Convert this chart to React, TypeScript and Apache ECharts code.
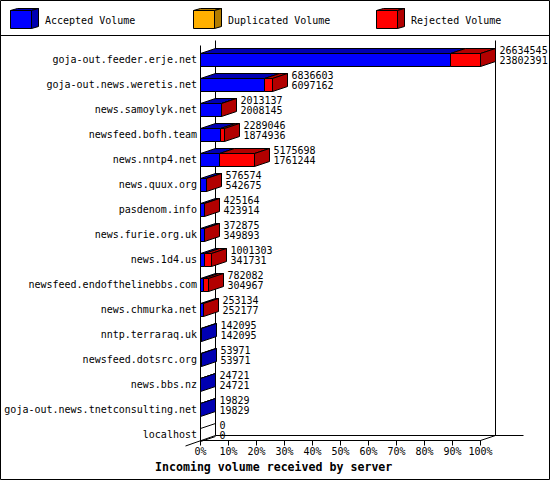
import React, { useEffect, useRef } from "react";
import * as echarts from "echarts";

const servers = [
  "goja-out.feeder.erje.net",
  "goja-out.news.weretis.net",
  "news.samoylyk.net",
  "newsfeed.bofh.team",
  "news.nntp4.net",
  "news.quux.org",
  "pasdenom.info",
  "news.furie.org.uk",
  "news.1d4.us",
  "newsfeed.endofthelinebbs.com",
  "news.chmurka.net",
  "nntp.terraraq.uk",
  "newsfeed.dotsrc.org",
  "news.bbs.nz",
  "goja-out.news.tnetconsulting.net",
  "localhost",
];
const totalVolume = [26634545, 6836603, 2013137, 2289046, 5175698, 576574, 425164, 372875, 1001303, 782082, 253134, 142095, 53971, 24721, 19829, 0];
const acceptedVolume = [23802391, 6097162, 2008145, 1874936, 1761244, 542675, 423914, 349893, 341731, 304967, 252177, 142095, 53971, 24721, 19829, 0];
const legendNames = ["Accepted Volume", "Duplicated Volume", "Rejected Volume"];
const title = "Incoming volume received by server";

const FONT = '"DejaVu Sans Mono", monospace';
const BLUE = "#0000ff";
const DARK_BLUE = "#0000b2";
const RED = "#ff0000";
const DARK_RED = "#b20000";
const ORANGE = "#ffb000";
const DARK_ORANGE = "#b27c00";
const DX = 15;
const DY = 5;
const LINE = { stroke: "#000", lineWidth: 1, fill: "none" };

const crisp = (v: number) => Math.round(v - 0.5) + 0.5;
const scaleMax = Math.max(...totalVolume);
const share = (v: number) => (v / scaleMax) * 100;

function poly(points: number[][], fill: string) {
  return { type: "polygon", shape: { points }, style: { fill, stroke: "#000", lineWidth: 1 } };
}
function seg(x1: number, y1: number, x2: number, y2: number) {
  return { type: "line", shape: { x1, y1, x2, y2 }, style: LINE };
}

function renderFrame(_: any, api: any) {
  const first = api.coord([0, 0]);
  const last = api.coord([100, servers.length - 1]);
  const l = crisp(first[0]);
  const r = crisp(last[0]);
  const top = first[1] - 12.5;
  const floor = last[1] + 12.5;
  return {
    type: "group",
    children: [
      seg(l, top + DY, l, floor),
      seg(l + DX, top, l + DX, floor - DY),
      seg(r + DX, top, r + DX, floor - DY),
      seg(l + DX, floor - DY, r + DX + 28, floor - DY),
      seg(l - DX, floor + DY + 0.5, l + DX, floor - DY),
      seg(r, floor, r + DX, floor - DY),
    ],
  };
}

function renderBar(_: any, api: any) {
  const row = api.value(1);
  const [x0Raw, cy] = api.coord([0, row]);
  const x0 = crisp(x0Raw);
  const xa = crisp(api.coord([api.value(2), row])[0]);
  const xt = crisp(api.coord([api.value(0), row])[0]);
  const yt = Math.floor(cy) + 0.5;
  const yb = yt + 13;
  const children: any[] = [];
  const hasAny = api.value(0) > 0;
  const hasRejected = api.value(0) > api.value(2);
  const top = (a: number, b: number, fill: string) =>
    poly([[a, yt], [b, yt], [b + DX, yt - DY], [a + DX, yt - DY]], fill);
  if (hasAny) {
    children.push(top(x0, xa, DARK_BLUE));
    if (hasRejected) children.push(top(xa, xt, DARK_RED));
    children.push(poly([[x0, yt], [xa, yt], [xa, yb], [x0, yb]], BLUE));
    if (hasRejected) children.push(poly([[xa, yt], [xt, yt], [xt, yb], [xa, yb]], RED));
    children.push(
      poly([[xt, yt], [xt + DX, yt - DY], [xt + DX, yb - DY], [xt, yb]], hasRejected ? DARK_RED : DARK_BLUE)
    );
  } else {
    children.push(seg(x0, yt, x0 + DX, yt - DY), seg(x0, yb, x0 + DX, yb - DY));
  }
  const tx = xt + DX + 4;
  const label = (text: string, y: number) => ({
    type: "text",
    style: { x: tx, y, text, fill: "#000", font: `10px ${FONT}`, align: "left", verticalAlign: "middle" },
  });
  children.push(label(String(totalVolume[row]), cy - 3), label(String(acceptedVolume[row]), cy + 7.5));
  return { type: "group", children };
}

function swatch(x: number, front: string, dark: string) {
  const y = 10.5;
  const w = 21;
  const h = 18;
  const dx = 7;
  const dy = 2;
  return [
    { type: "polygon", shape: { points: [[x, y], [x + dx, y - dy], [x + w + dx, y - dy], [x + w, y]] }, style: { fill: dark, stroke: "#000", lineWidth: 1 } },
    { type: "polygon", shape: { points: [[x + w, y], [x + w + dx, y - dy], [x + w + dx, y + h - dy], [x + w, y + h]] }, style: { fill: dark, stroke: "#000", lineWidth: 1 } },
    { type: "rect", shape: { x, y, width: w, height: h }, style: { fill: front, stroke: "#000", lineWidth: 1 } },
  ];
}

function legendText(x: number, text: string) {
  return {
    type: "text",
    x,
    y: 20,
    style: { text, fill: "#000", font: `10px ${FONT}`, align: "left", verticalAlign: "middle" },
  };
}

export default function App() {
  const ref = useRef<HTMLDivElement>(null);
  useEffect(() => {
    document.body.style.margin = "0";
    const chart = echarts.init(ref.current!, undefined, { renderer: "svg" });
    chart.setOption({
      animation: false,
      backgroundColor: "#fff",
      title: {
        text: title,
        left: 155,
        top: 461,
        padding: 0,
        textStyle: { fontFamily: FONT, fontWeight: "bold", fontSize: 11.6, color: "#000" },
      },
      grid: { left: 200.5, right: 69.5, top: 40.5, bottom: 39.5 },
      xAxis: {
        type: "value",
        min: 0,
        max: 100,
        interval: 10,
        axisLine: { show: true, lineStyle: { color: "#000", width: 1 } },
        axisTick: { show: true, length: 5, lineStyle: { color: "#000", width: 1 } },
        splitLine: { show: false },
        axisLabel: {
          formatter: "{value}%",
          margin: 6,
          color: "#000",
          fontFamily: FONT,
          fontSize: 10,
          hideOverlap: false,
          showMinLabel: true,
          showMaxLabel: true,
        },
      },
      yAxis: {
        type: "category",
        inverse: true,
        data: servers,
        axisLine: { show: false },
        axisTick: { show: false },
        axisLabel: {
          interval: 0,
          margin: 3.5,
          color: "#000",
          fontFamily: FONT,
          fontSize: 10,
          verticalAlign: "top",
          lineHeight: 12,
        },
      },
      series: [
        {
          type: "custom",
          silent: true,
          clip: false,
          z: 1,
          encode: { x: 0, y: 1 },
          data: [[0, 0]],
          renderItem: renderFrame,
        },
        {
          type: "custom",
          silent: true,
          clip: false,
          z: 2,
          encode: { x: 0, y: 1 },
          data: servers.map((_, i) => [share(totalVolume[i]), i, share(acceptedVolume[i])]),
          renderItem: renderBar,
        },
      ],
      graphic: [
        { type: "rect", silent: true, shape: { x: 0.5, y: 0.5, width: 549, height: 479 }, style: { fill: "none", stroke: "#000", lineWidth: 1 } },
        { type: "line", silent: true, shape: { x1: 0, y1: 35.5, x2: 550, y2: 35.5 }, style: { stroke: "#000", lineWidth: 1 } },
        ...swatch(10.5, BLUE, DARK_BLUE),
        ...swatch(193.5, ORANGE, DARK_ORANGE),
        ...swatch(376.5, RED, DARK_RED),
        legendText(45, legendNames[0]),
        legendText(228, legendNames[1]),
        legendText(411, legendNames[2]),
      ],
    });
    return () => chart.dispose();
  }, []);
  return <div ref={ref} style={{ width: 550, height: 480 }} />;
}
